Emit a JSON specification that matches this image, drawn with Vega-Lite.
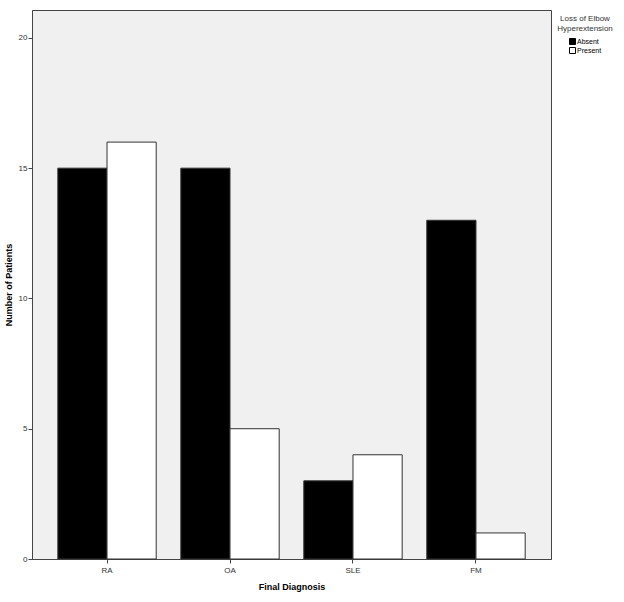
{
  "$schema": "https://vega.github.io/schema/vega-lite/v6.json",
  "autosize": {"type": "none"},
  "padding": {"left": 32, "top": 10, "right": 73, "bottom": 43},
  "width": 519,
  "height": 549,
  "background": "white",
  "data": {
    "values": [
      {"diagnosis": "RA", "loss": "Absent", "count": 15},
      {"diagnosis": "RA", "loss": "Present", "count": 16},
      {"diagnosis": "OA", "loss": "Absent", "count": 15},
      {"diagnosis": "OA", "loss": "Present", "count": 5},
      {"diagnosis": "SLE", "loss": "Absent", "count": 3},
      {"diagnosis": "SLE", "loss": "Present", "count": 4},
      {"diagnosis": "FM", "loss": "Absent", "count": 13},
      {"diagnosis": "FM", "loss": "Present", "count": 1}
    ]
  },
  "config": {
    "font": "Liberation Sans",
    "view": {"fill": "#f0f0f0", "stroke": "#444444", "strokeWidth": 1},
    "axis": {"grid": false, "domainColor": "#444444", "tickColor": "#444444", "labelColor": "#333333", "titleColor": "#000000", "labelFontSize": 8, "titleFontSize": 9, "titleFontWeight": "bold", "tickSize": 4, "labelPadding": 1}
  },
  "mark": {"type": "bar", "stroke": "#333333", "strokeWidth": 1},
  "encoding": {
    "x": {
      "field": "diagnosis", "type": "nominal", "sort": ["RA", "OA", "SLE", "FM"],
      "scale": {"paddingInner": 0.2, "paddingOuter": 0.21},
      "axis": {"title": "Final Diagnosis", "labelAngle": 0, "titlePadding": 8, "labelPadding": 3}
    },
    "xOffset": {"field": "loss", "type": "nominal", "sort": ["Absent", "Present"], "scale": {"paddingInner": 0, "paddingOuter": 0}},
    "y": {
      "field": "count", "type": "quantitative",
      "scale": {"domain": [0, 21.07], "nice": false},
      "axis": {"title": "Number of Patients", "values": [0, 5, 10, 15, 20], "titlePadding": 5}
    },
    "fill": {
      "field": "loss", "type": "nominal",
      "scale": {"domain": ["Absent", "Present"], "range": ["#000000", "#ffffff"]},
      "legend": {
        "title": ["Loss of Elbow", "Hyperextension"],
        "orient": "none",
        "legendX": 525,
        "legendY": 5,
        "titleFontSize": 8,
        "titleFontWeight": "normal",
        "titleColor": "#333333",
        "titleAlign": "center",
        "titleAnchor": "start",
        "titleLineHeight": 10,
        "titlePadding": 5,
        "symbolType": "square",
        "symbolSize": 36,
        "symbolStrokeColor": "#000000",
        "symbolStrokeWidth": 1,
        "symbolOffset": -16,
        "labelFontSize": 7,
        "labelColor": "#000000",
        "labelOffset": 1,
        "rowPadding": -3
      }
    }
  }
}
